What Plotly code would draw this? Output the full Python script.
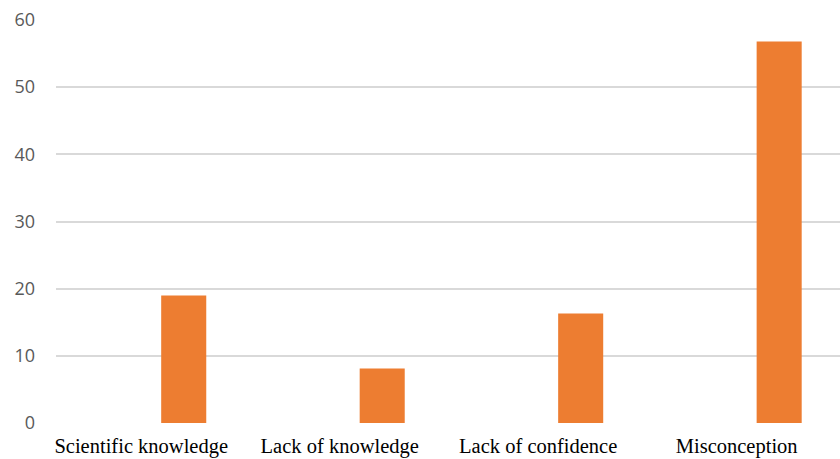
import plotly.graph_objects as go

# Response categories and their percentages
categories = ["Scientific knowledge", "Lack of knowledge", "Lack of confidence", "Misconception"]
values = [19.0, 8.1, 16.3, 56.8]
y_ticks = [0, 10, 20, 30, 40, 50, 60]

fig = go.Figure(
    go.Bar(
        x=categories,
        y=values,
        marker=dict(color="#ED7D31", line=dict(width=0)),
        width=0.227,
        offset=0.03,
    )
)

fig.update_layout(
    width=840,
    height=459,
    margin=dict(l=56, r=0, t=20, b=36),
    paper_bgcolor="white",
    plot_bgcolor="white",
    showlegend=False,
)

fig.update_xaxes(
    type="category",
    range=[-0.5, 3.45],
    showgrid=False,
    showline=False,
    zeroline=False,
    ticks="",
    tickfont=dict(family="Liberation Serif", size=20.5, color="#000000"),
    ticklabelshift=-14,
    ticklabelstandoff=8,
)

fig.update_yaxes(
    range=[0, 60],
    tickvals=y_ticks,
    showgrid=True,
    gridcolor="#D9D9D9",
    gridwidth=1.5,
    zeroline=False,
    showline=False,
    ticks="",
    tickfont=dict(family="Open Sans", size=18, color="#595959"),
    ticklabelstandoff=20,
)

fig.write_html("out.html")
